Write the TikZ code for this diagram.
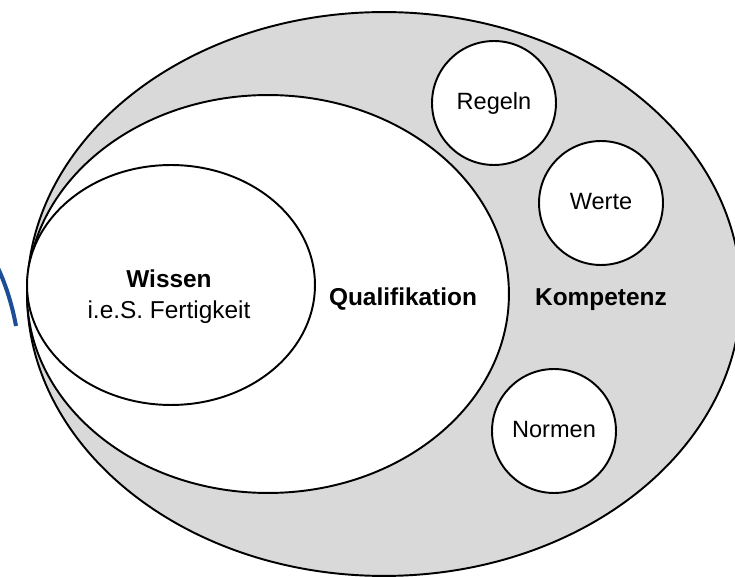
\documentclass[tikz,border=0pt]{standalone}
\usepackage{fontspec}
\setmainfont{Liberation Sans}
\usetikzlibrary{shapes.geometric}
\definecolor{ringgray}{RGB}{217,217,217}
\definecolor{slideblue}{RGB}{28,78,150}
\begin{document}
\begin{tikzpicture}[x=0.02cm,y=-0.02cm,
  outline/.style={draw=black,line width=1.1pt},
  oval/.style={ellipse,outline,fill=white,inner sep=0pt,outer sep=0pt},
  ring/.style={circle,outline,fill=white,inner sep=0pt,minimum size=2.48cm,
    font=\fontsize{13.4}{16}\selectfont,text height=0.716em,text depth=0pt},
  title/.style={font=\fontsize{13.9}{16}\selectfont\bfseries,anchor=base,inner sep=0pt},
  plain/.style={font=\fontsize{13.9}{16}\selectfont,anchor=base,inner sep=0pt}]
\useasboundingbox (0,0) rectangle (735,577);
\begin{scope}
  \clip (0,0) rectangle (735,577);
  % decorative arc at the left margin
  \coordinate (arcstart) at (-4,264);
  \coordinate (arcend) at (16,326);
  \draw[slideblue,line width=2.3pt] (arcstart) .. controls (5,282) and (12,304) .. (arcend);
  % nested sets
  \node[oval,fill=ringgray,minimum width=14.28cm,minimum height=11.28cm] (kompetenz) at (384,294) {};
  \node[oval,minimum width=9.64cm,minimum height=7.96cm] (qualifikation) at (268,294) {};
  \node[oval,minimum width=5.76cm,minimum height=4.8cm] (wissen) at (171,285) {};
\end{scope}
% components of competence
\node[ring] (regeln) at (494,103) {Regeln};
\node[ring] (werte) at (601,203) {Werte};
\node[ring] (normen) at (554,431) {Normen};
% set labels
\node[title] (wissentitel) at (169,288) {Wissen};
\node[plain] (wissenzusatz) at (169,319) {i.e.S. Fertigkeit};
\node[title] (qualitext) at (403,306) {Qualifikation};
\node[title] (kompetext) at (601,306) {Kompetenz};
\end{tikzpicture}
\end{document}
